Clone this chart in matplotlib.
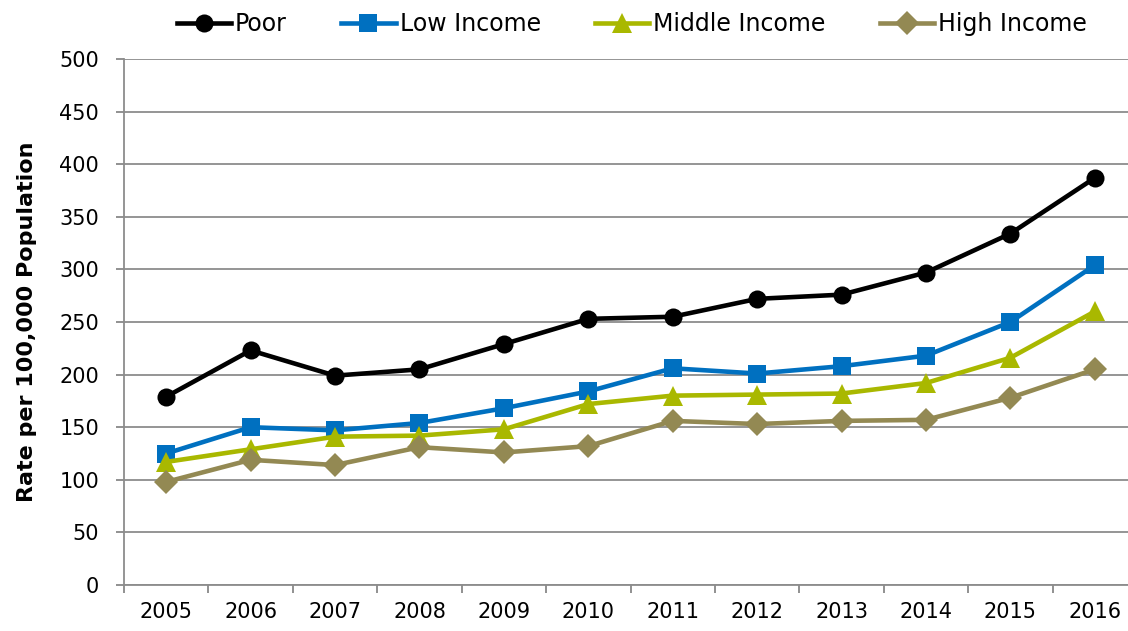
import matplotlib
matplotlib.use("Agg")
import matplotlib.pyplot as plt

years = ["2005", "2006", "2007", "2008", "2009", "2010", "2011", "2012", "2013", "2014", "2015", "2016"]
poor = [179, 223, 199, 205, 229, 253, 255, 272, 276, 297, 334, 387]
low_income = [125, 150, 147, 154, 168, 184, 206, 201, 208, 218, 250, 304]
middle_income = [117, 129, 141, 142, 148, 172, 180, 181, 182, 192, 216, 260]
high_income = [98, 119, 114, 131, 126, 132, 156, 153, 156, 157, 178, 205]
yticks = [0, 50, 100, 150, 200, 250, 300, 350, 400, 450, 500]

fig = plt.figure(figsize=(11.28, 6.31), dpi=100)
ax = fig.add_axes([124 / 1128, 1 - 585 / 631, 1013 / 1128, (585 - 59) / 631])

x = list(range(len(years)))
series = [
    ("Poor", poor, "#000000", "o", 13),
    ("Low Income", low_income, "#0070C0", "s", 13),
    ("Middle Income", middle_income, "#A9B800", "^", 14),
    ("High Income", high_income, "#938953", "D", 12),
]
for name, vals, col, mk, ms in series:
    ax.plot(x, vals, color=col, lw=3.3, marker=mk, markersize=ms, label=name,
            markeredgewidth=0, solid_joinstyle="round", clip_on=False)

ax.set_xlim(-0.5, 11.5)
ax.set_ylim(0, 500)
ax.set_yticks(yticks)
ax.set_yticklabels([str(v) for v in yticks])
ax.set_xticks([i - 0.5 for i in range(len(years) + 1)])
ax.set_xticklabels([])
ax.set_xticks(x, minor=True)
ax.set_xticklabels(years, minor=True)
ax.tick_params(axis="x", which="major", length=6, width=1.3, color="#888888", direction="out")
ax.tick_params(axis="x", which="minor", length=0, pad=12, labelsize=15)
ax.tick_params(axis="y", length=6, width=1.3, color="#888888", labelsize=15, pad=12)
ax.grid(axis="y", color="#8c8c8c", lw=1.3)
ax.set_axisbelow(True)
for s in ["top", "right"]:
    ax.spines[s].set_visible(False)
for s in ["left", "bottom"]:
    ax.spines[s].set_color("#8c8c8c")
    ax.spines[s].set_linewidth(1.3)

ax.set_ylabel("Rate per 100,000 Population", fontsize=16, fontweight="bold", labelpad=16)

leg = fig.legend(loc="center", bbox_to_anchor=(632 / 1128, 1 - 24 / 631), ncol=4, frameon=False,
                 prop={"family": "DejaVu Sans", "size": 17}, handlelength=2.3,
                 handletextpad=0.17, columnspacing=2.3)

fig.savefig("out.png", dpi=100)
